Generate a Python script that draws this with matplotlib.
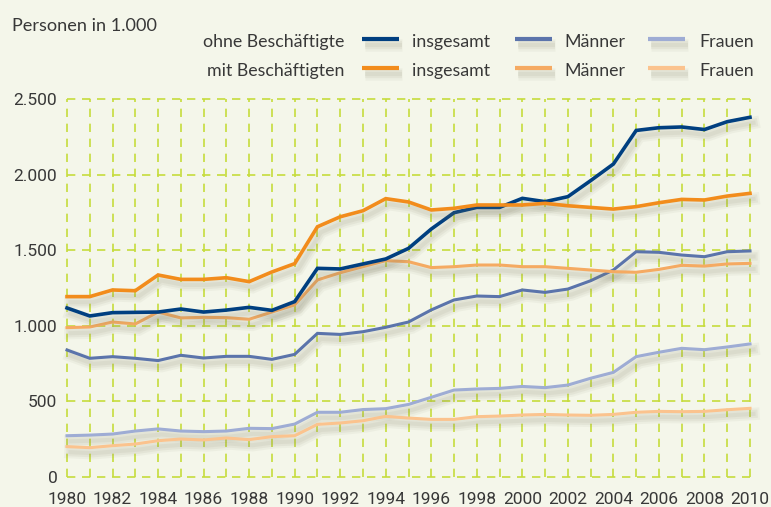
import matplotlib
matplotlib.use("Agg")
import matplotlib.pyplot as plt
import matplotlib.patheffects as pe
from matplotlib.lines import Line2D

years = list(range(1980, 2011))

ohne_insgesamt = [1118, 1065, 1087, 1089, 1091, 1111, 1091, 1104, 1122, 1102, 1160,
                  1380, 1376, 1409, 1442, 1512, 1640, 1748, 1783, 1783, 1843,
                  1821, 1854, 1960, 2070, 2292, 2310, 2315, 2298, 2350, 2379]
ohne_maenner = [840, 785, 796, 785, 770, 805, 787, 798, 798, 778, 811,
                950, 943, 961, 990, 1025, 1105, 1171, 1197, 1193, 1237,
                1221, 1243, 1298, 1369, 1490, 1486, 1468, 1457, 1490, 1495]
ohne_frauen = [273, 277, 284, 304, 318, 304, 300, 304, 322, 320, 350,
               428, 428, 446, 452, 480, 527, 575, 582, 586, 599,
               591, 608, 653, 692, 796, 825, 851, 842, 860, 880]
mit_insgesamt = [1193, 1193, 1237, 1232, 1336, 1307, 1307, 1318, 1292, 1356, 1411,
                 1655, 1721, 1761, 1841, 1819, 1766, 1777, 1799, 1799, 1799,
                 1810, 1794, 1783, 1772, 1788, 1814, 1836, 1832, 1858, 1876]
mit_maenner = [988, 992, 1025, 1012, 1091, 1052, 1056, 1054, 1043, 1091, 1138,
               1303, 1351, 1391, 1431, 1424, 1385, 1391, 1402, 1402, 1391,
               1391, 1380, 1369, 1358, 1354, 1373, 1400, 1395, 1409, 1413]
mit_frauen = [201, 194, 207, 218, 240, 251, 245, 258, 247, 267, 273,
              348, 357, 372, 401, 390, 381, 381, 399, 403, 410,
              414, 410, 408, 414, 428, 434, 432, 434, 445, 454]

yticks = [0, 500, 1000, 1500, 2000, 2500]
ytick_labels = ["0", "500", "1.000", "1.500", "2.000", "2.500"]
xticks = list(range(1980, 2011, 2))

title = "Personen in 1.000"
row_labels = ["ohne Beschäftigte", "mit Beschäftigten"]
col_labels = ["insgesamt", "Männer", "Frauen"]

bg = "#f4f6ea"
grid_c = "#c6dc3c"
c_ohne = ["#003f80", "#5b74ab", "#9eacd4"]
c_mit = ["#f28c1c", "#f5aa62", "#fbc38e"]
text_c = "#383838"

label_font = ["Lato", "DejaVu Sans"]
tick_font = ["Roboto", "DejaVu Sans"]

W, H = 771, 507
fig = plt.figure(figsize=(W / 100, H / 100), dpi=100, facecolor=bg)
ax = fig.add_axes([67 / W, 1 - 477 / H, 683 / W, 378 / H])
ax.set_facecolor(bg)
ax.set_xlim(1980, 2010)
ax.set_ylim(0, 2500)
for s in ax.spines.values():
    s.set_visible(False)

# grid
for x in years:
    ax.plot([x, x], [0, 2500], color=grid_c, lw=1.2, ls=(0, (5, 4)), zorder=1, clip_on=False)
for y in yticks:
    ax.plot([1980, 2010], [y, y], color=grid_c, lw=1.2, ls=(0, (5, 4)), zorder=1, clip_on=False)

shadow = [
    pe.SimpleLineShadow(offset=(2.5, -4), shadow_color="#7a7a60", alpha=0.06, linewidth=9),
    pe.SimpleLineShadow(offset=(2.5, -4), shadow_color="#7a7a60", alpha=0.08, linewidth=6),
    pe.SimpleLineShadow(offset=(2.5, -4), shadow_color="#7a7a60", alpha=0.08, linewidth=3),
    pe.Normal(),
]

series = [
    (ohne_frauen, c_ohne[2], 2.2),
    (mit_frauen, c_mit[2], 2.2),
    (ohne_maenner, c_ohne[1], 2.2),
    (mit_maenner, c_mit[1], 2.2),
    (ohne_insgesamt, c_ohne[0], 2.6),
    (mit_insgesamt, c_mit[0], 2.6),
]
for vals, col, lw in series:
    ax.plot(years, vals, color=col, lw=lw, zorder=3, clip_on=False,
            solid_joinstyle="miter", path_effects=shadow)

ax.set_yticks(yticks)
ax.set_yticklabels(ytick_labels)
ax.set_xticks(xticks)
ax.set_xticklabels([str(x) for x in xticks])
ax.tick_params(length=0, labelsize=12.5, colors=text_c)
ax.tick_params(axis="y", pad=7)
ax.tick_params(axis="x", pad=11)
for t in ax.get_xticklabels() + ax.get_yticklabels():
    t.set_family(tick_font)

renderer = fig.canvas.get_renderer()


def fit(t, target_px):
    w = t.get_window_extent(renderer).width
    if w > 0:
        t.set_fontsize(t.get_fontsize() * target_px / w)
    return t.get_fontsize()


# title
tt = fig.text(12 / W, 1 - 31 / H, title, fontsize=12, color=text_c,
              family=label_font, va="baseline", ha="left")
fit(tt, 145)

# legend
text_base = [47, 76]
line_y = [39, 68]
line_x = [(362, 399), (515, 552), (648, 685)]
text_x = [412, 564, 699]
colors_rows = [c_ohne, c_mit]
probe = fig.text(0, 0, row_labels[0], fontsize=12, family=label_font)
lsize = fit(probe, 141)
probe.remove()
for r in range(2):
    yb = 1 - text_base[r] / H
    yl = 1 - line_y[r] / H
    fig.text(344 / W, yb, row_labels[r], fontsize=lsize, color=text_c,
             family=label_font, ha="right", va="baseline")
    for c in range(3):
        x0, x1 = line_x[c]
        ln = Line2D([x0 / W, x1 / W], [yl, yl], transform=fig.transFigure,
                    color=colors_rows[r][c], lw=3.0, solid_capstyle="butt",
                    path_effects=shadow)
        fig.add_artist(ln)
        fig.text(text_x[c] / W, yb, col_labels[c], fontsize=lsize, color=text_c,
                 family=label_font, ha="left", va="baseline")

fig.savefig("out.png", dpi=100, facecolor=bg)
